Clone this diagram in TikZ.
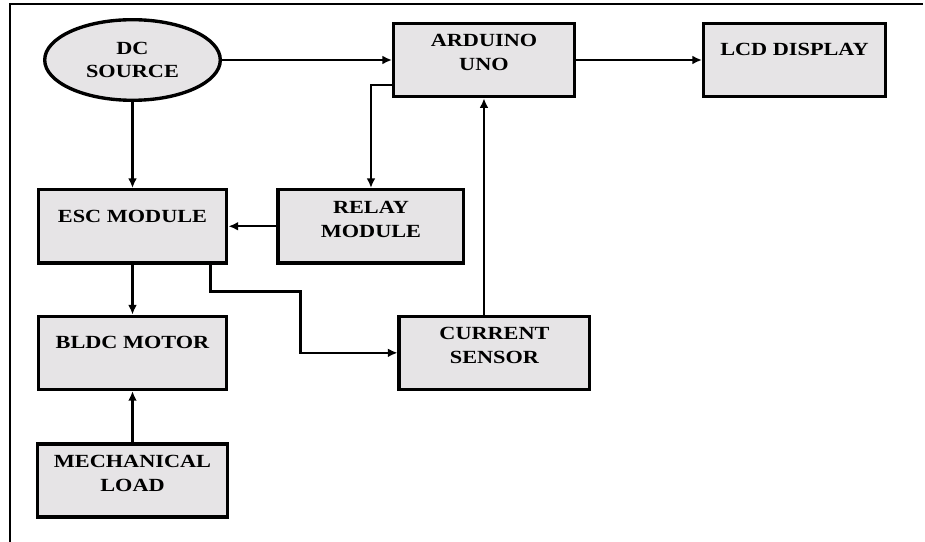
\documentclass[tikz,border=0pt]{standalone}
\usepackage{fontspec}
\setmainfont{Liberation Serif}[FakeStretch=1.2]
\usetikzlibrary{arrows.meta,positioning,shapes.geometric}
\definecolor{boxgray}{RGB}{230,228,230}
\tikzset{
  block/.style={draw=black, line width=2.4pt, fill=boxgray, minimum height=1.83cm, inner xsep=2pt, inner ysep=0pt, text height=23.1pt, text depth=28.8pt, align=center, font=\bfseries\fontsize{13.2}{17}\selectfont},
  twoline/.style={block, text width=4.1cm, text height=16.7pt, text depth=35.2pt},
  source/.style={ellipse, draw=black, line width=2.4pt, fill=boxgray, minimum width=4.39cm, minimum height=2.015cm, inner sep=0pt, align=center, font=\bfseries\fontsize{13.2}{16.5}\selectfont},
  signal/.style={-{Latex[length=2.4mm, width=2.2mm]}, line width=1.6pt, draw=black},
  frame/.style={line width=1.4pt, draw=black}
}

\begin{document}
\begin{tikzpicture}
  \useasboundingbox (0,0) rectangle (23.125,-13.55);
  \draw[frame] (0.25,-13.55) -- (0.25,-0.1) -- (23.075,-0.1);

  \node[source] (dc) at (3.3125,-1.5) {DC\\SOURCE};
  \node[twoline, minimum width=4.515cm, right=4.25cm of dc] (ard) {ARDUINO\\UNO};
  \node[block, minimum width=4.54cm, right=3.15cm of ard] (lcd) {LCD DISPLAY};
  \node[block, minimum width=4.715cm, below=2.15cm of dc] (esc) {ESC MODULE};
  \node[twoline, minimum width=4.64cm, right=1.2cm of esc] (rel) {RELAY\\MODULE};
  \node[block, minimum width=4.715cm, below=1.25cm of esc] (bldc) {BLDC MOTOR};
  \node[twoline, minimum width=4.74cm, below=1.275cm of bldc] (mech) {MECHANICAL\\LOAD};
  \node[twoline, minimum width=4.765cm, right=4.225cm of bldc] (cur) {CURRENT\\SENSOR};

  \draw[signal] (dc) -- (ard);
  \draw[signal] (ard) -- (lcd);
  \draw[signal] (dc.south) -- (dc.south |- esc.north);
  \draw[signal] ([yshift=0.325cm]ard.south west) -| (rel.north);
  \draw[signal] (rel) -- (esc);
  \draw[signal] (esc) -- (bldc);
  \draw[signal] ([xshift=-0.45cm]esc.south east) |- ++(2.25,-0.675) |- (cur.west);
  \draw[signal] (cur.north -| ard.south) -- (ard.south);
  \draw[signal] (mech) -- (bldc);
\end{tikzpicture}
\end{document}
